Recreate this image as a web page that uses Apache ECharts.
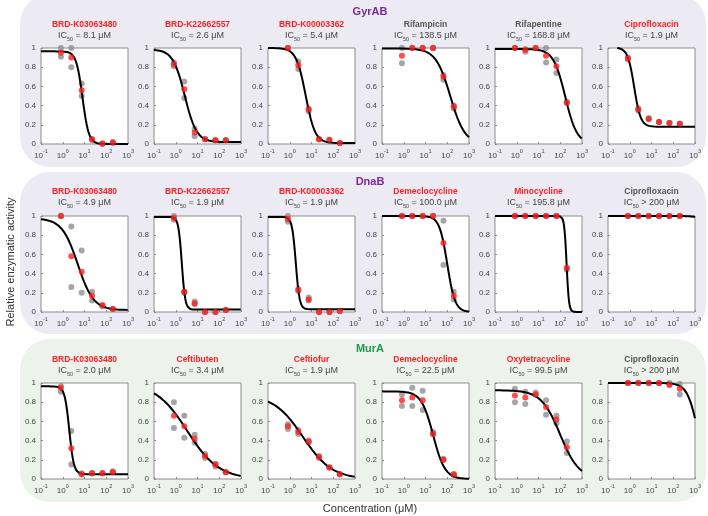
<!DOCTYPE html>
<html><head><meta charset="utf-8">
<script src="https://cdn.jsdelivr.net/npm/echarts@6/dist/echarts.min.js"></script>
<style>html,body{margin:0;padding:0;background:#fff}#c{width:708px;height:516px}</style>
</head><body><div id="c"></div>
<script>
// ---- data ----
const conc = [0.823, 2.47, 7.41, 22.2, 66.7, 200];
const groupNames = ['GyrAB', 'DnaB', 'MurA'];
const compounds = [
  ['BRD-K03063480','BRD-K22662557','BRD-K00003362','Rifampicin','Rifapentine','Ciprofloxacin'],
  ['BRD-K03063480','BRD-K22662557','BRD-K00003362','Demeclocycline','Minocycline','Ciprofloxacin'],
  ['BRD-K03063480','Ceftibuten','Ceftiofur','Demeclocycline','Oxytetracycline','Ciprofloxacin']
];
const isHit = [
  [1,1,1,0,0,1],
  [1,1,1,1,1,0],
  [1,1,1,1,1,0]
];
const ic50Text = [
  ['= 8.1 μM','= 2.6 μM','= 5.4 μM','= 138.5 μM','= 168.8 μM','= 1.9 μM'],
  ['= 4.9 μM','= 1.9 μM','= 1.9 μM','= 100.0 μM','= 195.8 μM','> 200 μM'],
  ['= 2.0 μM','= 3.4 μM','= 1.9 μM','= 22.5 μM','= 99.5 μM','> 200 μM']
];
// mean activity (red)
const meanVals = [
  [0.95,0.90,0.56,0.05,0.005,0.015],[0.83,0.57,0.12,0.05,0.04,0.04],[1.0,0.82,0.36,0.05,0.045,0.01],
  [0.92,1.0,1.0,1.0,0.70,0.39],[1.0,0.98,1.0,0.92,0.81,0.43],[0.89,0.36,0.26,0.23,0.22,0.21],
  [1.0,0.58,0.42,0.17,0.07,0.03],[0.98,0.21,0.09,0.0,0.0,0.02],[0.97,0.23,0.13,0.0,0.0,0.01],
  [1.0,1.0,1.0,1.0,0.72,0.17],[1,1,1,1,1,0.46],[1,1,1,1,1,1],
  [0.95,0.32,0.05,0.06,0.06,0.07],[0.66,0.55,0.42,0.24,0.15,0.07],[0.55,0.49,0.39,0.23,0.12,0.05],
  [0.82,0.85,0.82,0.47,0.20,0.05],[0.87,0.85,0.88,0.75,0.62,0.33],[1.0,1.0,1.0,1.0,0.98,0.94]
];
// replicate A (gray)
const repA = [
  [1.0,1.0,0.63,0.05,0.005,0.02],[0.85,0.65,0.16,0.05,0.04,0.04],[1.0,0.86,0.37,0.05,0.04,0.01],
  [1.0,1.0,1.0,1.0,0.72,0.40],[1.0,0.99,1.0,1.0,0.88,0.44],[0.90,0.37,0.27,0.23,0.22,0.21],
  [1.0,0.89,0.64,0.21,0.07,0.03],[1.0,0.21,0.11,0.0,0.0,0.02],[1.0,0.24,0.15,0.0,0.0,0.01],
  [1,1,1,1,0.95,0.21],[1,1,1,1,1,0.45],[1,1,1,1,1,1],
  [0.97,0.50,0.06,0.06,0.06,0.08],[0.80,0.66,0.46,0.26,0.16,0.07],[0.57,0.51,0.40,0.24,0.12,0.05],
  [0.88,0.95,0.92,0.49,0.21,0.05],[0.94,0.91,0.90,0.82,0.66,0.39],[1,1,1,1,1.0,0.99]
];
// replicate B (gray)
const repB = [
  [0.91,0.80,0.50,0.04,0.0,0.01],[0.81,0.48,0.08,0.05,0.04,0.04],[1.0,0.78,0.34,0.05,0.04,0.01],
  [0.84,1.0,1.0,1.0,0.67,0.37],[1.0,0.96,1.0,0.85,0.74,0.43],[0.88,0.35,0.26,0.23,0.22,0.21],
  [1.0,0.26,0.20,0.12,0.06,0.03],[0.96,0.20,0.08,0.0,0.0,0.02],[0.94,0.22,0.12,0.0,0.0,0.01],
  [1,1,1,1,0.49,0.13],[1,1,1,1,1,0.44],[1,1,1,1,1,1],
  [0.91,0.15,0.05,0.06,0.06,0.07],[0.53,0.43,0.38,0.22,0.13,0.07],[0.52,0.47,0.38,0.22,0.12,0.05],
  [0.76,0.76,0.72,0.47,0.20,0.04],[0.80,0.78,0.88,0.67,0.58,0.27],[1,1,1,1,0.99,0.88]
];
// fitted dose-response parameters: top, bottom, midpoint, Hill slope
const fitTop    = [0.965,0.985,1.0,0.995,0.99,1.005, 0.975,0.99,0.99,1.0,1.0,1.0, 0.965,1.0,0.88,0.913,0.925,1.0];
const fitBottom = [0,0.02,0.01,0,0,0.18, 0.02,0.025,0.028,0,0,0, 0.05,0,0,0,0,0];
const fitMid    = [8.1,2.6,5.4,138.5,168.8,1.6, 4.9,1.9,1.9,100,195.8,10000, 2.0,3.4,4.0,22.5,99.5,1350];
const fitHill   = [3,1.6,2,1.3,1.6,2.9, 1.2,5.5,5,2.4,8,2, 4.1,0.6,0.65,1.6,1.0,1.8];
const xTicks = [0.1, 1, 10, 100, 1000];

// ---- layout ----
const lefts = [41, 154, 268, 382, 495, 608];
const tops = [48, 216, 383];
const PW = 87, PH = 96;
const FONT = '"Liberation Sans", Arial, Helvetica, sans-serif';
const RED = '#ff1f1f', GRAY_PT = '#8f8f8f';

const grids = [], xAxes = [], yAxes = [], series = [], graphic = [];

// backgrounds
const bgs = [
  {y:-6, h:173, c:'#ecebf4'},
  {y:172, h:162, c:'#ecebf4'},
  {y:339, h:163, c:'#edf3ec'}
];
bgs.forEach(b => graphic.push({type:'rect', z:-10, shape:{x:20, y:b.y, width:686, height:b.h, r:30}, style:{fill:b.c}}));
const groupY = [12, 182, 349];
const groupColor = ['#7a2a9a', '#7a2a9a', '#1f9a4a'];
groupNames.forEach((g, r) => graphic.push({type:'text', x:370, y:groupY[r], style:{text:g, align:'center', verticalAlign:'middle', font:'bold 11px ' + FONT, fill:groupColor[r]}}));
const nameY = [25, 192, 360], icY = [36, 203, 371];

function supLabel(v) {
  const e = Math.round(Math.log10(v));
  return '{b|10}{s|' + e + '}';
}

for (let i = 0; i < 18; i++) {
  const r = Math.floor(i / 6), c = i % 6;
  const cx = lefts[c] + PW / 2;
  grids.push({left: lefts[c], top: tops[r], width: PW, height: PH, show: true, backgroundColor: '#ffffff', borderColor: '#8c8c8c', borderWidth: 1});
  xAxes.push({type: 'log', logBase: 10, gridIndex: i, min: 0.1, max: 1000,
    axisLine: {show: false}, splitLine: {show: false},
    axisTick: {show: true, inside: true, length: 2, lineStyle: {color: '#8c8c8c'}},
    axisLabel: {margin: 4, color: '#444', fontFamily: FONT, formatter: supLabel,
      rich: {b: {fontSize: 8, fontFamily: FONT, color: '#444', lineHeight: 12, verticalAlign: 'bottom'},
             s: {fontSize: 5.5, fontFamily: FONT, color: '#444', lineHeight: 12, verticalAlign: 'top'}}}});
  yAxes.push({type: 'value', gridIndex: i, min: 0, max: 1, interval: 0.2,
    axisLine: {show: false}, splitLine: {show: false},
    axisTick: {show: true, inside: true, length: 2, lineStyle: {color: '#8c8c8c'}},
    axisLabel: {margin: 5, fontSize: 8, color: '#444', fontFamily: FONT}});
  const gray = [];
  conc.forEach((x, k) => { gray.push([x, repA[i][k]]); gray.push([x, repB[i][k]]); });
  series.push({type: 'scatter', xAxisIndex: i, yAxisIndex: i, data: gray, symbolSize: 6, itemStyle: {color: GRAY_PT}, z: 2, silent: true});
  const curve = [];
  for (let k = 0; k <= 300; k++) {
    const x = Math.pow(10, -1 + 4 * k / 300);
    const y = fitBottom[i] + (fitTop[i] - fitBottom[i]) / (1 + Math.pow(x / fitMid[i], fitHill[i]));
    if (y <= 1.0005) curve.push([x, Math.min(y, 1)]);
  }
  series.push({type: 'line', xAxisIndex: i, yAxisIndex: i, data: curve, showSymbol: false, smooth: false, lineStyle: {color: '#000', width: 2}, z: 3, silent: true});
  series.push({type: 'scatter', xAxisIndex: i, yAxisIndex: i, data: conc.map((x, k) => [x, meanVals[i][k]]), symbolSize: 6, itemStyle: {color: RED}, z: 4, silent: true});
  graphic.push({type: 'text', x: cx, y: nameY[r], style: {text: compounds[r][c], align: 'center', verticalAlign: 'middle', font: 'bold 8.5px ' + FONT, fill: isHit[r][c] ? RED : '#555'}});
  graphic.push({type: 'text', x: cx, y: icY[r], style: {text: 'IC{s|50} ' + ic50Text[r][c], align: 'center', verticalAlign: 'middle', font: '9px ' + FONT, fill: '#444',
    rich: {s: {fontSize: 5.5, fontFamily: FONT, fill: '#444', lineHeight: 12, verticalAlign: 'bottom'}}}});
}
graphic.push({type: 'text', x: 370, y: 509, style: {text: 'Concentration (μM)', align: 'center', verticalAlign: 'middle', font: '11px ' + FONT, fill: '#333'}});
graphic.push({type: 'text', x: 11, y: 262, rotation: Math.PI / 2, style: {text: 'Relative enzymatic activity', align: 'center', verticalAlign: 'middle', font: '11px ' + FONT, fill: '#333'}});

const chart = echarts.init(document.getElementById('c'), null, {renderer: 'canvas'});
chart.setOption({animation: false, grid: grids, xAxis: xAxes, yAxis: yAxes, series: series, graphic: graphic});
</script></body></html>
